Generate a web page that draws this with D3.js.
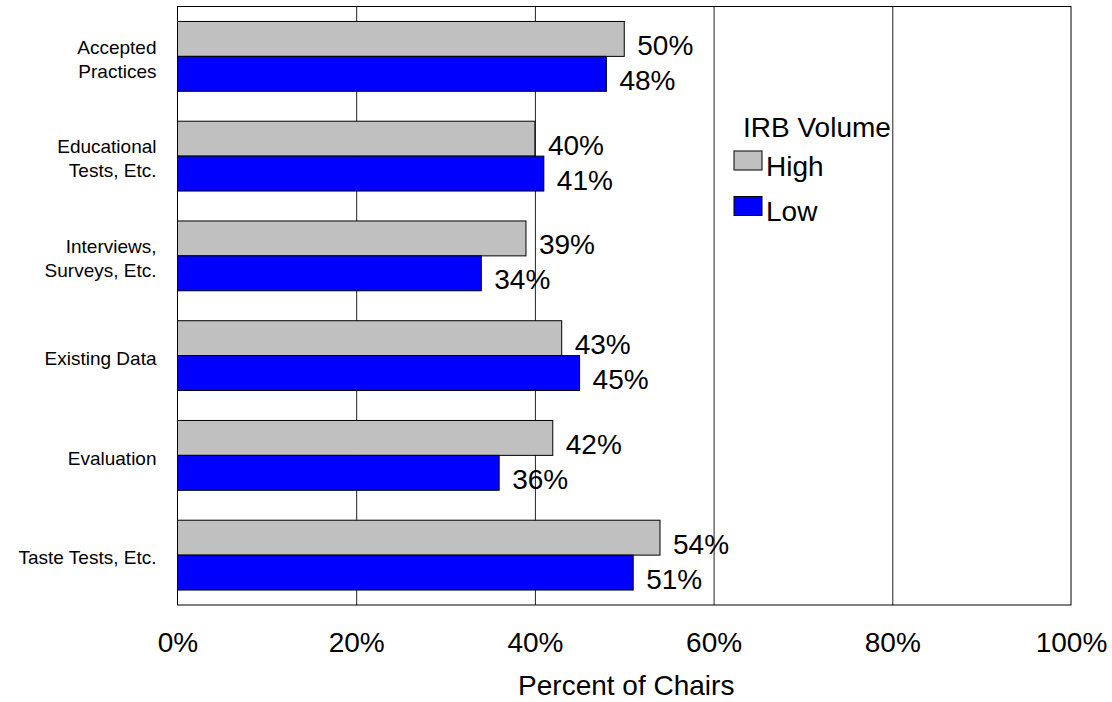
<!DOCTYPE html>
<html>
<head>
<meta charset="utf-8">
<script src="https://cdn.jsdelivr.net/npm/d3@7"></script>
<style>
  html, body { margin: 0; padding: 0; background: #fff; }
  svg { display: block; font-family: "Liberation Sans", Arial, sans-serif; }
</style>
</head>
<body>
<svg id="chart" width="1112" height="702"></svg>
<script>
const categories = ["Accepted\nPractices", "Educational\nTests, Etc.", "Interviews,\nSurveys, Etc.", "Existing Data", "Evaluation", "Taste Tests, Etc."];
const seriesNames = ["High", "Low"];
const highValues = [50, 40, 39, 43, 42, 54];
const lowValues = [48, 41, 34, 45, 36, 51];
const tickValues = [0, 20, 40, 60, 80, 100];
const legendTitle = "IRB Volume";
const axisTitle = "Percent of Chairs";
const colors = ["#C0C0C0", "#0000FF"];

(function () {
const svg = d3.select("#chart");
const pLeft = 177.5, pRight = 1071, pTop = 6.5, pBottom = 605;
const W = pRight - pLeft, H = pBottom - pTop;

const x = d3.scaleLinear().domain([0, 100]).range([pLeft, pRight]);
const y = d3.scaleBand().domain(categories).range([pTop, pBottom]).paddingInner(0.3).paddingOuter(0.15);
const ys = d3.scaleBand().domain(seriesNames).range([0, y.bandwidth()]);

// gridlines
svg.append("g")
  .attr("transform", `translate(0,${pBottom})`)
  .call(d3.axisBottom(x).tickValues(tickValues.slice(1, -1)).tickSize(-H).tickFormat(""))
  .call(g => g.select(".domain").remove())
  .call(g => g.selectAll("line").attr("stroke", "#222").attr("stroke-width", 1));

// bars
const data = categories.map((c, i) => ({ cat: c, vals: [highValues[i], lowValues[i]] }));
const grp = svg.append("g").selectAll("g").data(data).join("g")
  .attr("transform", d => `translate(0,${y(d.cat)})`);

grp.selectAll("rect").data(d => d.vals.map((v, k) => ({ v, s: seriesNames[k], k })))
  .join("rect")
  .attr("x", x(0))
  .attr("y", d => ys(d.s))
  .attr("width", d => x(d.v) - x(0))
  .attr("height", ys.bandwidth())
  .attr("fill", d => colors[d.k])
  .attr("stroke", "#000")
  .attr("stroke-width", 1);

grp.selectAll("text").data(d => d.vals.map((v, k) => ({ v, s: seriesNames[k], k })))
  .join("text")
  .attr("x", d => x(d.v) + 13)
  .attr("y", d => ys(d.s) + ys.bandwidth() - 1.5)
  .attr("font-size", 28)
  .attr("fill", "#000")
  .text(d => d.v + "%");

// plot border
svg.append("rect")
  .attr("x", pLeft).attr("y", pTop).attr("width", W).attr("height", H)
  .attr("fill", "none").attr("stroke", "#000").attr("stroke-width", 1);

// x tick labels
svg.append("g")
  .attr("transform", `translate(0,${pBottom})`)
  .call(d3.axisBottom(x).tickValues(tickValues).tickSize(0).tickPadding(0).tickFormat(d => d + "%"))
  .call(g => g.select(".domain").remove())
  .call(g => g.selectAll("text")
    .attr("font-size", 28).attr("font-family", "Liberation Sans, Arial, sans-serif")
    .attr("fill", "#000").attr("dy", null).attr("y", 47));

// axis title
svg.append("text")
  .attr("x", (pLeft + pRight) / 2 + 2)
  .attr("y", 695)
  .attr("text-anchor", "middle")
  .attr("font-size", 28)
  .text(axisTitle);

// category labels
const catG = svg.append("g");
categories.forEach(c => {
  const lines = c.split("\n");
  const cy = y(c) + y.bandwidth() / 2;
  const t = catG.append("text")
    .attr("text-anchor", "end")
    .attr("font-size", 19)
    .attr("fill", "#000");
  lines.forEach((ln, i) => {
    const base = lines.length === 1 ? cy + 9.3 : cy - 2.7 + i * 24;
    t.append("tspan").attr("x", pLeft - 21).attr("y", base).text(ln);
  });
});

// legend
const lg = svg.append("g");
lg.append("text").attr("x", 743).attr("y", 137).attr("font-size", 28).text(legendTitle);
seriesNames.forEach((s, i) => {
  const yy = 151 + i * 45.5;
  lg.append("rect").attr("x", 734).attr("y", yy).attr("width", 28).attr("height", 19)
    .attr("fill", colors[i]).attr("stroke", "#000").attr("stroke-width", 1);
  lg.append("text").attr("x", 766).attr("y", yy + 24.5).attr("font-size", 28).text(s);
});
})();
</script>
</body>
</html>
